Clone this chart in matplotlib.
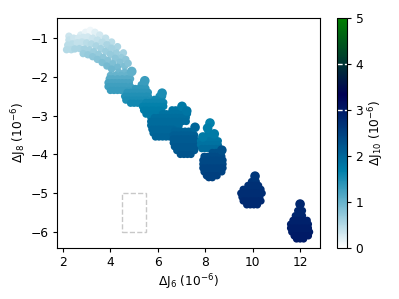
import matplotlib
matplotlib.use("Agg")
import matplotlib.pyplot as plt
from matplotlib.patches import Rectangle

plt.rcParams["font.size"] = 8.8
plt.rcParams["xtick.major.size"] = 2.6
plt.rcParams["ytick.major.size"] = 2.6

# top-left band, one point per tuple: (dJ6, dJ8, dJ10)
band_a = [
    (2.75, -0.92, 0.25), (2.95, -0.85, 0.15), (3.15, -0.80, 0.10), (3.35, -0.85, 0.20),
    (3.55, -0.92, 0.30), (3.80, -1.00, 0.40), (4.05, -1.10, 0.45), (4.30, -1.22, 0.55),
    (4.55, -1.38, 0.60), (2.25, -0.95, 0.35),
    (2.25, -1.05, 0.40), (2.45, -1.00, 0.35), (2.65, -1.00, 0.30), (2.85, -0.98, 0.30),
    (3.05, -0.97, 0.30), (3.25, -1.00, 0.35), (3.45, -1.05, 0.40), (3.65, -1.10, 0.45),
    (3.85, -1.17, 0.55), (4.05, -1.26, 0.60), (4.25, -1.38, 0.65), (4.45, -1.50, 0.70),
    (4.65, -1.55, 0.75),
    (2.20, -1.18, 0.45), (2.40, -1.15, 0.45), (2.60, -1.12, 0.40), (2.80, -1.10, 0.40),
    (3.00, -1.12, 0.45), (3.20, -1.15, 0.50), (3.40, -1.20, 0.55), (3.60, -1.27, 0.60),
    (3.80, -1.34, 0.65), (4.00, -1.42, 0.70), (4.20, -1.52, 0.75), (4.40, -1.62, 0.80),
    (4.60, -1.72, 0.85), (4.75, -1.65, 0.80),
    (2.15, -1.30, 0.50), (2.35, -1.30, 0.50),
    (2.50, -1.28, 0.55), (2.70, -1.27, 0.55), (2.90, -1.28, 0.60), (3.10, -1.30, 0.60),
    (3.30, -1.35, 0.65), (3.50, -1.42, 0.70), (3.70, -1.50, 0.75), (3.90, -1.58, 0.80),
    (4.10, -1.66, 0.85), (4.30, -1.75, 0.90),
    (2.85, -1.40, 0.65), (3.05, -1.43, 0.70), (3.25, -1.48, 0.75), (3.45, -1.55, 0.80),
    (3.65, -1.63, 0.85), (3.85, -1.72, 0.90), (4.05, -1.80, 0.95),
]

# other clusters, one row per tuple: (dJ8, dJ10, [dJ6 ...])
cluster_b = [
    (-1.88, 0.95, [4.35, 4.6, 4.85]),
    (-1.96, 1.00, [4.0, 4.2, 4.45, 4.7]),
    (-2.05, 1.10, [3.95, 4.1, 4.3, 4.5, 4.7, 4.85]),
    (-2.15, 1.20, [3.9, 4.05, 4.2, 4.35, 4.5, 4.65, 4.8]),
    (-2.25, 1.25, [3.9, 4.05, 4.2, 4.35, 4.5, 4.65, 4.85]),
    (-2.35, 1.30, [4.0, 4.15, 4.3, 4.45, 4.6, 4.75]),
]
cluster_c = [
    (-2.20, 1.30, [5.3, 5.45]),
    (-2.30, 1.35, [5.05, 5.2, 5.35, 5.5]),
    (-2.40, 1.40, [4.7, 4.85, 5.0, 5.15, 5.3, 5.45, 5.6]),
    (-2.50, 1.45, [4.6, 4.75, 4.9, 5.05, 5.2, 5.35, 5.5, 5.6]),
    (-2.60, 1.50, [4.65, 4.8, 4.95, 5.1, 5.25, 5.4, 5.55]),
    (-2.68, 1.55, [4.85, 5.0, 5.15, 5.3, 5.45]),
]
cluster_d = [
    (-2.50, 1.50, [6.05, 6.2]),
    (-2.58, 1.55, [5.85, 6.0, 6.15]),
    (-2.66, 1.60, [5.5, 5.65, 5.8, 5.95, 6.1, 6.25]),
    (-2.76, 1.65, [5.35, 5.5, 5.65, 5.8, 5.95, 6.1, 6.25]),
    (-2.86, 1.70, [5.4, 5.55, 5.7, 5.85, 6.0, 6.15]),
    (-2.96, 1.75, [5.5, 5.65, 5.8, 5.95, 6.1]),
    (-3.04, 1.75, [5.7, 5.85, 6.0]),
]
cluster_e = [
    (-2.85, 1.80, [6.6, 6.75, 6.9, 7.05]),
    (-2.95, 1.85, [6.2, 6.35, 6.5, 6.65, 6.8, 6.95, 7.1, 7.25]),
    (-3.05, 1.90, [5.85, 6.0, 6.15, 6.3, 6.45, 6.6, 6.75, 6.9, 7.05, 7.2]),
    (-3.15, 1.95, [5.7, 5.85, 6.0, 6.15, 6.3, 6.45, 6.6, 6.75, 6.9, 7.05, 7.2]),
    (-3.25, 1.95, [5.7, 5.85, 6.0, 6.15, 6.3, 6.45, 6.6, 6.75, 6.9]),
    (-3.35, 2.00, [5.75, 5.9, 6.05, 6.2, 6.35, 6.5, 6.65]),
    (-3.45, 2.00, [5.8, 5.95, 6.1, 6.25, 6.4, 6.55]),
    (-3.55, 2.05, [5.9, 6.05, 6.2, 6.35, 6.5]),
]
cluster_f = [
    (-3.40, 2.05, [6.7, 6.85, 7.0, 7.15, 7.3, 7.45]),
    (-3.50, 2.10, [6.65, 6.8, 6.95, 7.1, 7.25, 7.4, 7.55]),
    (-3.60, 2.15, [6.65, 6.8, 6.95, 7.1, 7.25, 7.4, 7.55]),
    (-3.70, 2.15, [6.65, 6.8, 6.95, 7.1, 7.25, 7.4, 7.55]),
    (-3.80, 2.20, [6.7, 6.85, 7.0, 7.15, 7.3, 7.45, 7.6]),
    (-3.90, 2.20, [6.8, 6.95, 7.1, 7.25, 7.4, 7.55]),
    (-4.00, 2.25, [6.95, 7.1, 7.25, 7.4]),
]
cluster_g_top = [
    (-3.42, 1.70, [8.12]),
    (-3.55, 1.75, [7.9, 8.05, 8.2, 8.4]),
    (-3.65, 1.80, [7.8, 7.95, 8.1, 8.25, 8.4, 8.55]),
    (-3.75, 1.85, [7.8, 7.95, 8.1, 8.25, 8.4, 8.55]),
    (-3.85, 1.95, [7.85, 8.0, 8.15, 8.3, 8.45, 8.6]),
]
cluster_g_low = [
    (-3.95, 2.30, [8.3, 8.45, 8.6]),
    (-4.05, 2.35, [7.95, 8.1, 8.25, 8.4, 8.55, 8.7]),
    (-4.15, 2.40, [7.9, 8.05, 8.2, 8.35, 8.5, 8.65, 8.75]),
    (-4.25, 2.40, [7.9, 8.05, 8.2, 8.35, 8.5, 8.65, 8.75]),
    (-4.35, 2.45, [7.9, 8.05, 8.2, 8.35, 8.5, 8.65, 8.75]),
    (-4.45, 2.45, [7.95, 8.1, 8.25, 8.4, 8.55, 8.7]),
    (-4.55, 2.50, [8.05, 8.2, 8.35, 8.5]),
    (-4.60, 2.50, [8.15, 8.3]),
]
cluster_h = [
    (-4.70, 2.65, [9.95, 10.15]),
    (-4.80, 2.70, [9.8, 9.95, 10.1, 10.25]),
    (-4.90, 2.70, [9.6, 9.75, 9.9, 10.05, 10.2, 10.35]),
    (-5.00, 2.75, [9.5, 9.65, 9.8, 9.95, 10.1, 10.25, 10.4]),
    (-5.10, 2.75, [9.55, 9.7, 9.85, 10.0, 10.15, 10.3]),
    (-5.20, 2.80, [9.6, 9.75, 9.9, 10.05, 10.2, 10.35]),
    (-5.30, 2.80, [9.75, 9.9, 10.05, 10.2]),
]
cluster_i = [
    (-5.45, 2.85, [11.9, 12.1]),
    (-5.58, 2.85, [11.8, 11.95, 12.1]),
    (-5.70, 2.90, [11.7, 11.85, 12.0, 12.15, 12.3]),
    (-5.80, 2.90, [11.6, 11.75, 11.9, 12.05, 12.2, 12.35]),
    (-5.90, 2.95, [11.6, 11.75, 11.9, 12.05, 12.2, 12.35]),
    (-6.00, 2.95, [11.65, 11.8, 11.95, 12.1, 12.25, 12.4]),
    (-6.10, 3.00, [11.75, 11.9, 12.05, 12.2, 12.35]),
    (-6.18, 3.00, [11.85, 12.0, 12.15]),
]

# larger points at the top of the columns: (dJ6, dJ8, dJ10)
tips = [
    (4.90, -1.86, 1.05), (5.45, -2.10, 1.30), (6.18, -2.42, 1.50),
    (7.02, -2.76, 1.75), (7.22, -2.88, 1.80), (7.57, -3.30, 2.00),
    (8.20, -3.19, 1.65), (8.10, -3.32, 1.70), (8.38, -3.47, 1.75),
    (7.90, -3.55, 1.75), (8.70, -3.89, 2.30), (10.10, -4.56, 2.60),
    (12.00, -5.28, 2.85),
]

box_j6 = [4.5, 5.5]
box_j8 = [-6.0, -5.0]

# flatten everything into dJ6 / dJ8 / dJ10
dj6 = [p[0] for p in band_a]
dj8 = [p[1] for p in band_a]
dj10 = [p[2] for p in band_a]
for cluster in [cluster_b, cluster_c, cluster_d, cluster_e, cluster_f,
                cluster_g_top, cluster_g_low, cluster_h, cluster_i]:
    for j8, j10, row in cluster:
        for j6 in row:
            dj6.append(j6)
            dj8.append(j8)
            dj10.append(j10)

fig = plt.figure(figsize=(3.99, 2.99), dpi=100)
ax = fig.add_axes([0.143, 0.171, 0.659, 0.769])
cax = fig.add_axes([0.845, 0.171, 0.025, 0.769])

sc = ax.scatter(dj6, dj8, c=dj10, cmap="ocean_r", vmin=0, vmax=5,
                s=28, linewidths=0)
ax.scatter([t[0] for t in tips], [t[1] for t in tips], c=[t[2] for t in tips],
           cmap="ocean_r", vmin=0, vmax=5, s=48, linewidths=0)

ax.add_patch(Rectangle((box_j6[0], box_j8[0]), box_j6[1] - box_j6[0],
                       box_j8[1] - box_j8[0], fill=False,
                       edgecolor="#c8c8c8", linestyle="--", linewidth=1))

ax.set_xlim(1.75, 12.84)
ax.set_ylim(-6.41, -0.48)
ax.set_xticks([2, 4, 6, 8, 10, 12])
ax.set_yticks([-1, -2, -3, -4, -5, -6])
ax.set_xlabel(r"$\Delta$J$_6$ (10$^{-6}$)", labelpad=2)
ax.set_ylabel(r"$\Delta$J$_8$ (10$^{-6}$)", labelpad=1)

cbar = fig.colorbar(sc, cax=cax)
cbar.set_ticks([0, 1, 2, 3, 4, 5])
cbar.set_label(r"$\Delta$J$_{10}$ (10$^{-6}$)", labelpad=2)
for level in [3, 4]:
    cax.axhline(level, color="white", linestyle="--", linewidth=1)

fig.savefig("out.png", dpi=100)
